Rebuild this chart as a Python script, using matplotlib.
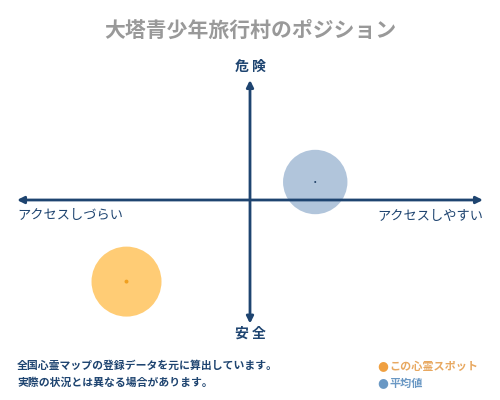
import matplotlib
matplotlib.use("Agg")
import matplotlib.pyplot as plt

plt.rcParams['font.family'] = ['Noto Sans CJK JP', 'DejaVu Sans']

title = "大塔青少年旅行村のポジション"
y_labels = ["危 険", "安 全"]
x_labels = ["アクセスしづらい", "アクセスしやすい"]
series_names = ["この心霊スポット", "平均値"]
access = [-0.53, 0.28]      # x: access
danger = [-0.68, 0.15]      # y: danger
sizes = [2540, 2150]
fill_colors = ["#FFC766", "#A9BFD8"]
dot_colors = ["#F0A020", "#1F3F66"]
legend_colors = ["#F0A040", "#6A98C4"]
legend_text_colors = ["#E8A860", "#6A98C4"]
notes = ["全国心霊マップの登録データを元に算出しています。",
         "実際の状況とは異なる場合があります。"]

W, H = 500, 400
fig = plt.figure(figsize=(5, 4), dpi=100)
navy = "#1E4470"

# plot area in pixel box: x 17..483, y 80..320
ax = fig.add_axes([17 / W, 1 - 320 / H, 466 / W, 240 / H])
ax.set_xlim(-1, 1)
ax.set_ylim(-1, 1)
ax.axis('off')

arrow = dict(arrowstyle='-|>', color=navy, lw=2.0, mutation_scale=10, shrinkA=0, shrinkB=0)
for end in [(1, 0), (-1, 0), (0, 1), (0, -1.03)]:
    ax.annotate("", xy=end, xytext=(0, 0), arrowprops=arrow,
                annotation_clip=False, zorder=5)

ax.scatter(access, danger, s=sizes, c=fill_colors, alpha=0.9, edgecolors='none', zorder=3)
ax.scatter(access, danger, s=[8, 2], c=dot_colors, edgecolors='none', zorder=4)

fig.text(0.5, 1 - 30 / H, title, ha='center', va='center', fontsize=15,
         color="#999999", fontweight='bold')
fig.text(0.5, 1 - 67 / H, y_labels[0], ha='center', va='center', fontsize=10,
         color=navy, fontweight='bold')
fig.text(0.5, 1 - 334 / H, y_labels[1], ha='center', va='center', fontsize=10,
         color=navy, fontweight='bold')
fig.text(17 / W, 1 - 216 / H, x_labels[0], ha='left', va='center', fontsize=9.5,
         color=navy)
fig.text(483 / W, 1 - 216 / H, x_labels[1], ha='right', va='center', fontsize=9.5,
         color=navy)

fig.text(17 / W, 1 - 366 / H, notes[0], ha='left', va='center', fontsize=7.8,
         color=navy, fontweight='bold')
fig.text(17 / W, 1 - 383 / H, notes[1], ha='left', va='center', fontsize=7.8,
         color=navy, fontweight='bold')

for i, (name, col) in enumerate(zip(series_names, legend_colors)):
    yy = 1 - (366 + 17 * i) / H
    fig.text(377 / W, yy, "●", ha='left', va='center', fontsize=9, color=col,
             family=['DejaVu Sans'])
    fig.text(389 / W, yy, name, ha='left', va='center', fontsize=8,
             color=legend_text_colors[i], fontweight='bold')

fig.savefig("out.png", dpi=100, facecolor='white')
